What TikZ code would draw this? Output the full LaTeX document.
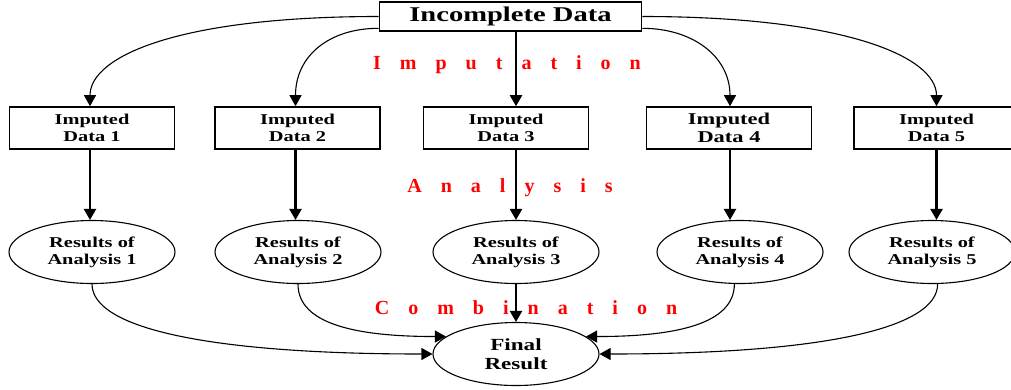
\documentclass[tikz,border=0pt]{standalone}
\usepackage{fontspec}
\setmainfont{Liberation Serif}
\newfontfamily\widefont[FakeStretch=1.36]{Liberation Serif}
\usetikzlibrary{arrows.meta,shapes.geometric}
\newcommand\lsp{\hspace{19pt}}
\begin{document}
\begin{tikzpicture}[x=1pt,y=-1pt,
  box/.style={draw,line width=1.6pt,minimum width=165pt,minimum height=42pt,inner sep=0pt,align=center,
    font=\widefont\bfseries\fontsize{15}{17}\selectfont},
  res/.style={ellipse,draw,line width=1.1pt,minimum width=166pt,minimum height=63pt,inner sep=0pt,align=center,
    font=\widefont\bfseries\fontsize{15}{17}\selectfont},
  thickarrow/.style={line width=2.2pt,-{Triangle[width=12pt,length=11pt]}},
  thinarrow/.style={line width=1.1pt,-{Triangle[width=12pt,length=11pt]}},
  lbl/.style={text=red,anchor=base,inner sep=0pt,font=\bfseries\fontsize{20}{24}\selectfont}]
\useasboundingbox (0,0) rectangle (1011,389);
\fill[white] (0,0) rectangle (1011,389);

% top
\node[box,minimum width=262pt,minimum height=29pt,font=\widefont\bfseries\fontsize{21}{24}\selectfont] (inc) at (510.5,16.5) {Incomplete Data};

% imputed boxes
\node[box] (b1) at (92,128) {Imputed\\Data 1};
\node[box] (b2) at (297.5,128) {Imputed\\Data 2};
\node[box] (b3) at (506,128) {Imputed\\Data 3};
\node[box,font=\widefont\bfseries\fontsize{16.5}{18}\selectfont] (b4) at (729,128) {Imputed\\Data 4};
\node[box] (b5) at (936.5,128) {Imputed\\Data 5};

% results
\node[res] (r1) at (92,252) {Results of\\Analysis 1};
\node[res] (r2) at (298,252) {Results of\\Analysis 2};
\node[res] (r3) at (516,252) {Results of\\Analysis 3};
\node[res] (r4) at (740,252) {Results of\\Analysis 4};
\node[res] (r5) at (932,252) {Results of\\Analysis 5};

\node[res,font=\widefont\bfseries\fontsize{17}{19.5}\selectfont] (fin) at (516,354) {Final\\Result};

% labels
\node[lbl] (imp) at (507,69) {I\lsp m\lsp p\lsp u\lsp t\lsp a\lsp t\lsp i\lsp o\lsp n};
\node[lbl] (ana) at (510,192) {A\lsp n\lsp a\lsp l\lsp y\lsp s\lsp i\lsp s};
\node[lbl] (comb) at (526,314) {C\lsp o\lsp m\lsp b\lsp i\lsp n\lsp a\lsp t\lsp i\lsp o\lsp n};

% imputation arrows
\draw[thinarrow] (inc.west) .. controls +(-200,0) and +(0,-50) .. ([xshift=-2pt]b1.north);
\draw[thinarrow] ([yshift=3.5pt]inc.south west) .. controls +(-50,0) and +(0,-50) .. ([xshift=-2pt]b2.north);
\draw[thickarrow] (inc.south -| r3.north) -- (b3.north -| r3.north);
\draw[thinarrow] ([yshift=3.5pt]inc.south east) .. controls +(50,0) and +(0,-50) .. ([xshift=1pt]b4.north);
\draw[thinarrow] (inc.east) .. controls +(200,0) and +(0,-50) .. (b5.north);

% analysis arrows
\draw[thickarrow] ([xshift=-2pt]b1.south) -- ([xshift=-2pt]b1.south |- r1.north);
\draw[thickarrow] ([xshift=-2pt]b2.south) -- ([xshift=-2pt]b2.south |- r2.north);
\draw[thickarrow] (b3.south -| r3.north) -- (r3.north);
\draw[thickarrow] ([xshift=1pt]b4.south) -- ([xshift=1pt]b4.south |- r4.north);
\draw[thickarrow] (b5.south) -- (b5.south |- r5.north);

% combination arrows
\draw[thinarrow] (r1.south) .. controls +(0,45) and +(-220,0) .. (fin.west);
\draw[thinarrow] (r2.south) .. controls +(0,40) and +(-90,0) .. (fin.166);
\draw[thickarrow] (r3.south) -- (fin.north);
\draw[thinarrow] (r4.260) .. controls +(0,40) and +(90,0) .. (fin.14);
\draw[thinarrow] (r5.280) .. controls +(0,45) and +(220,0) .. (fin.east);
\end{tikzpicture}
\end{document}
